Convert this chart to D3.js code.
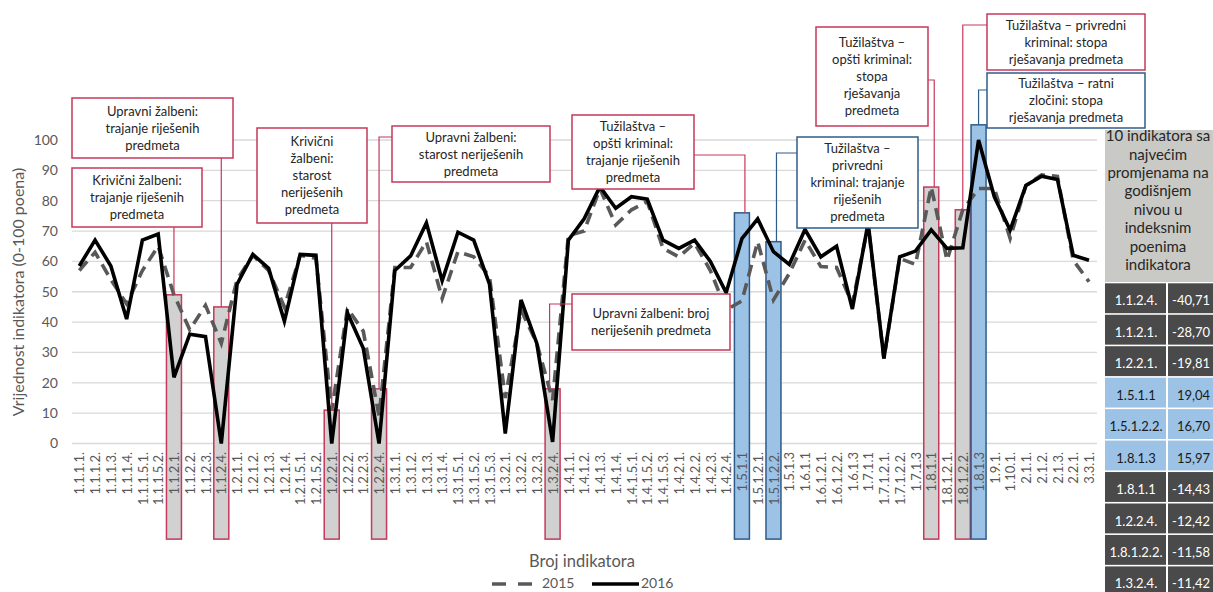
<!DOCTYPE html>
<html>
<head>
<meta charset="utf-8">
<script src="https://cdn.jsdelivr.net/npm/d3@7"></script>
<style>
  body { margin: 0; background: #fff; }
  svg { display: block; font-family: Lato, "Open Sans", sans-serif; }
</style>
</head>
<body>
<svg id="chart"></svg>
<script>
// indicators on the x axis
const indicators = [
  "1.1.1.1.", "1.1.1.2.", "1.1.1.3.", "1.1.1.4.", "1.1.1.5.1.", "1.1.1.5.2.", "1.1.2.1.", "1.1.2.2.", "1.1.2.3.", "1.1.2.4.",
  "1.2.1.1.", "1.2.1.2.", "1.2.1.3.", "1.2.1.4.", "1.2.1.5.1.", "1.2.1.5.2.", "1.2.2.1.", "1.2.2.2.", "1.2.2.3.", "1.2.2.4.",
  "1.3.1.1.", "1.3.1.2.", "1.3.1.3.", "1.3.1.4.", "1.3.1.5.1.", "1.3.1.5.2.", "1.3.1.5.3.", "1.3.2.1.", "1.3.2.2.", "1.3.2.3.", "1.3.2.4.",
  "1.4.1.1.", "1.4.1.2.", "1.4.1.3.", "1.4.1.4.", "1.4.1.5.1.", "1.4.1.5.2.", "1.4.1.5.3.", "1.4.2.1.", "1.4.2.2.", "1.4.2.3.", "1.4.2.4.",
  "1.5.1.1", "1.5.1.2.1.", "1.5.1.2.2.", "1.5.1.3",
  "1.6.1.1", "1.6.1.2.1.", "1.6.1.2.2.", "1.6.1.3",
  "1.7.1.1", "1.7.1.2.1.", "1.7.1.2.2.", "1.7.1.3",
  "1.8.1.1", "1.8.1.2.1.", "1.8.1.2.2.", "1.8.1.3",
  "1.9.1.", "1.10.1.", "2.1.1.", "2.1.2.", "2.1.3.", "2.2.1.", "3.3.1."
];

// indicator values (0-100 points)
const values2015 = [
  57, 63, 54, 46, 57, 65, 49, 37.5, 45.5, 33,
  54, 62, 57, 45, 62, 61, 11, 44.5, 37, 9,
  58, 58, 66.5, 47.8, 63.2, 61.5, 55, 15, 44, 33, 14.3,
  68.5, 70, 84, 72, 77, 79.7, 64.3, 61.5, 66, 57, 44,
  47, 66.5, 47.3, 56,
  67, 58.3, 58, 46,
  72, 28, 61, 59,
  84.5, 60.4, 77, 84,
  84, 67.6, 85, 88.5, 88, 60.4, 53.3
];
const values2016 = [
  58.5, 67, 58.5, 41, 67, 69, 21.8, 36, 35.2, 0,
  52.5, 62.3, 57.7, 40.3, 62.3, 62, 0, 43, 31.4, 0,
  57, 61.8, 72.7, 53.6, 69.6, 67, 52.5, 3.3, 47.3, 33, 0.5,
  67, 74, 84.6, 77.5, 81.3, 80.5, 67, 64.3, 67, 60, 49.7,
  67.5, 74, 63.2, 59,
  70.5, 61.5, 65, 44.3,
  72.7, 28, 61.5, 63.4,
  70.4, 64.3, 64.5, 100,
  81.3, 70.3, 85, 88.1, 87, 62, 60.4
];

// highlighted indicators (drops = gray, rises = blue)
const grayBarIds = ["1.1.2.1.", "1.1.2.4.", "1.2.2.1.", "1.2.2.4.", "1.3.2.4.", "1.8.1.1", "1.8.1.2.2."];
const grayBarValues = [49, 45, 11, 18, 18, 84.5, 77];
const blueBarIds = ["1.5.1.1", "1.5.1.2.2.", "1.8.1.3"];
const blueBarValues = [76, 66.5, 105];
const barBase = -31.5;

const yTicks = [0, 10, 20, 30, 40, 50, 60, 70, 80, 90, 100];

// callout texts and the bar each one points at
const noteTexts = [
  ["Upravni žalbeni:", "trajanje riješenih", "predmeta"],
  ["Krivični žalbeni:", "trajanje riješenih", "predmeta"],
  ["Krivični", "žalbeni:", "starost", "neriješenih", "predmeta"],
  ["Upravni žalbeni:", "starost neriješenih", "predmeta"],
  ["Tužilaštva –", "opšti kriminal:", "trajanje riješenih", "predmeta"],
  ["Upravni žalbeni: broj", "neriješenih predmeta"],
  ["Tužilaštva –", "opšti kriminal:", "stopa", "rješavanja", "predmeta"],
  ["Tužilaštva – privredni", "kriminal: stopa", "rješavanja predmeta"],
  ["Tužilaštva – ratni", "zločini: stopa", "rješavanja predmeta"],
  ["Tužilaštva –", "privredni", "kriminal: trajanje", "riješenih", "predmeta"]
];
const noteTargets = ["1.1.2.4.", "1.1.2.1.", "1.2.2.1.", "1.2.2.4.", "1.5.1.1", "1.3.2.4.", "1.8.1.1", "1.8.1.2.2.", "1.8.1.3", "1.5.1.2.2."];

// side table: 10 indicators with the largest yearly change
const tableHeader = ["10 indikatora sa", "najvećim", "promjenama na", "godišnjem", "nivou u", "indeksnim", "poenima", "indikatora"];
const tableIds = ["1.1.2.4.", "1.1.2.1.", "1.2.2.1.", "1.5.1.1", "1.5.1.2.2.", "1.8.1.3", "1.8.1.1", "1.2.2.4.", "1.8.1.2.2.", "1.3.2.4."];
const tableValues = [-40.71, -28.70, -19.81, 19.04, 16.70, 15.97, -14.43, -12.42, -11.58, -11.42];

// ---- layout ----
var w = 1213;
var h = 592;
var pink = "#c5395b";
var blue = "#2e5c8a";
var textGray = "#595959";

// callout boxes: position, size, color, where the leader leaves the box
var noteLayout = [
  { x: 72, y: 98, w: 161, h: 60, color: pink, side: "bottom" },
  { x: 72, y: 168, w: 130, h: 59, color: pink, side: "bottom" },
  { x: 257, y: 128, w: 110, h: 95, color: pink, side: "bottom" },
  { x: 392, y: 126, w: 158, h: 56, color: pink, side: "left", ly: 137 },
  { x: 572, y: 115, w: 122, h: 74, color: pink, side: "right", ly: 155, dx: 3 },
  { x: 572, y: 294, w: 158, h: 56, color: pink, side: "left", ly: 304, dx: -3 },
  { x: 816, y: 27, w: 112, h: 99, color: pink, side: "right", ly: 80, dx: 3 },
  { x: 987, y: 14, w: 158, h: 56, color: pink, side: "left", ly: 25 },
  { x: 987, y: 73, w: 158, h: 55, color: blue, side: "left", ly: 90 },
  { x: 797, y: 137, w: 121, h: 91, color: blue, side: "left", ly: 153, dx: 3 }
];

var svg = d3.select("#chart")
  .attr("width", w)
  .attr("height", h);

var xScale = d3.scalePoint()
  .domain(indicators)
  .range([79.3, 1089]);

var yScale = d3.scaleLinear()
  .domain([0, 100])
  .range([443.5, 140]);

var barWidth = 15;

// gridlines
svg.append("g")
  .selectAll("line")
  .data(yTicks)
  .join("line")
    .attr("x1", 72)
    .attr("x2", 1097)
    .attr("y1", d => yScale(d))
    .attr("y2", d => yScale(d))
    .attr("stroke", "#d9d9d9")
    .attr("stroke-width", 1.3);

// y axis labels
svg.append("g")
  .attr("transform", "translate(58,0)")
  .call(d3.axisLeft(yScale).tickValues(yTicks).tickSize(0).tickPadding(0))
  .call(g => g.select(".domain").remove())
  .call(g => g.selectAll("text")
    .attr("fill", textGray)
    .style("font-size", "14px")
    .style("font-family", "Lato"));

// highlight bars
var grayBars = grayBarIds.map((id, i) => ({ id: id, value: grayBarValues[i] }));
var blueBars = blueBarIds.map((id, i) => ({ id: id, value: blueBarValues[i] }));
var barValueOf = {};
grayBars.concat(blueBars).forEach(b => { barValueOf[b.id] = b.value; });

function drawBars(data, fill, stroke) {
  svg.append("g")
    .selectAll("rect")
    .data(data)
    .join("rect")
      .attr("x", d => xScale(d.id) - barWidth / 2)
      .attr("y", d => yScale(d.value))
      .attr("width", barWidth)
      .attr("height", d => yScale(barBase) - yScale(d.value))
      .attr("fill", fill)
      .attr("stroke", stroke)
      .attr("stroke-width", 1.5);
}
drawBars(grayBars, "#d0d1d0", pink);
drawBars(blueBars, "#9cc2e6", blue);

// x axis labels, rotated, drawn over the bars
svg.append("g")
  .attr("transform", "translate(0,449)")
  .call(d3.axisBottom(xScale).tickSize(0).tickPadding(0))
  .call(g => g.select(".domain").remove())
  .call(g => g.selectAll("text")
    .attr("transform", "rotate(-90)")
    .attr("x", -3)
    .attr("y", 0)
    .attr("dy", "0.36em")
    .attr("text-anchor", "end")
    .attr("fill", textGray)
    .style("font-size", "13px")
    .style("font-family", "Lato"));

// the two years
var line = d3.line()
  .x((d, i) => xScale(indicators[i]))
  .y(d => yScale(d));

svg.append("path")
  .datum(values2015)
  .attr("d", line)
  .attr("fill", "none")
  .attr("stroke", "#595959")
  .attr("stroke-width", 3.6)
  .attr("stroke-dasharray", "12,7");

svg.append("path")
  .datum(values2016)
  .attr("d", line)
  .attr("fill", "none")
  .attr("stroke", "#000")
  .attr("stroke-width", 3.6);

// callouts: leader line first, then the box on top
var notes = noteTexts.map((lines, i) => Object.assign({ lines: lines, target: noteTargets[i] }, noteLayout[i]));

var noteG = svg.append("g");
notes.forEach(n => {
  var tx = xScale(n.target) + (n.dx || 0);
  var ty = yScale(barValueOf[n.target]);
  var pts;
  if (n.side === "bottom") {
    pts = [[tx, n.y + n.h], [tx, ty]];
  } else if (n.side === "left") {
    pts = [[n.x, n.ly], [tx, n.ly], [tx, ty]];
  } else {
    pts = [[n.x + n.w, n.ly], [tx, n.ly], [tx, ty]];
  }
  noteG.append("path")
    .attr("d", d3.line()(pts))
    .attr("fill", "none")
    .attr("stroke", n.color)
    .attr("stroke-width", 1.2);

  noteG.append("rect")
    .attr("x", n.x)
    .attr("y", n.y)
    .attr("width", n.w)
    .attr("height", n.h)
    .attr("fill", "#fff")
    .attr("stroke", n.color)
    .attr("stroke-width", 1.5);

  var lh = 17;
  var first = n.y + n.h / 2 - (n.lines.length - 1) / 2 * lh;
  noteG.append("text")
    .attr("text-anchor", "middle")
    .attr("fill", "#262626")
    .style("font-size", "13px")
    .selectAll("tspan")
    .data(n.lines)
    .join("tspan")
      .attr("x", n.x + n.w / 2)
      .attr("y", (d, i) => first + i * lh)
      .attr("dy", "0.35em")
      .text(d => d);
});

// axis titles
svg.append("text")
  .attr("transform", "translate(18,292) rotate(-90)")
  .attr("text-anchor", "middle")
  .attr("dy", "0.35em")
  .attr("fill", textGray)
  .style("font-size", "16px")
  .text("Vrijednost indikatora (0-100 poena)");

svg.append("text")
  .attr("x", 582)
  .attr("y", 567)
  .attr("text-anchor", "middle")
  .attr("fill", textGray)
  .style("font-size", "16.5px")
  .text("Broj indikatora");

// legend
var legend = svg.append("g");
legend.append("line")
  .attr("x1", 492).attr("x2", 537)
  .attr("y1", 584).attr("y2", 584)
  .attr("stroke", "#595959")
  .attr("stroke-width", 3.6)
  .attr("stroke-dasharray", "14,12");
legend.append("text")
  .attr("x", 542).attr("y", 588)
  .attr("fill", textGray)
  .style("font-size", "14px")
  .text("2015");
legend.append("line")
  .attr("x1", 592).attr("x2", 639)
  .attr("y1", 584).attr("y2", 584)
  .attr("stroke", "#000")
  .attr("stroke-width", 3.6);
legend.append("text")
  .attr("x", 641).attr("y", 588)
  .attr("fill", textGray)
  .style("font-size", "14px")
  .text("2016");

// side table
var table = svg.append("g");
table.append("rect")
  .attr("x", 1105).attr("y", 130)
  .attr("width", 120).attr("height", 152)
  .attr("fill", "#c9c9c5");
table.append("text")
  .attr("text-anchor", "middle")
  .attr("fill", "#262626")
  .style("font-size", "15px")
  .selectAll("tspan")
  .data(tableHeader)
  .join("tspan")
    .attr("x", 1158)
    .attr("y", (d, i) => 136 + i * 18.4)
    .attr("dy", "0.35em")
    .text(d => d);

var rowY = d3.scaleBand()
  .domain(d3.range(tableIds.length))
  .range([283.3, 283.3 + 31.3 * tableIds.length])
  .paddingInner(0.05);

var fmt = v => d3.format(".2f")(v).replace(".", ",").replace("\u2212", "-");

var rows = table.selectAll("g.row")
  .data(tableIds.map((id, i) => ({ id: id, value: tableValues[i] })))
  .join("g")
    .attr("class", "row")
    .attr("transform", (d, i) => `translate(0,${rowY(i)})`);

rows.append("rect")
  .attr("x", 1105).attr("width", 61)
  .attr("height", rowY.bandwidth())
  .attr("fill", d => d.value > 0 ? "#9cc2e6" : "#4a4a4a");
rows.append("rect")
  .attr("x", 1168).attr("width", 60)
  .attr("height", rowY.bandwidth())
  .attr("fill", d => d.value > 0 ? "#9cc2e6" : "#4a4a4a");
rows.append("text")
  .attr("x", 1136)
  .attr("y", 22)
  .attr("text-anchor", "middle")
  .attr("fill", d => d.value > 0 ? "#1a1a1a" : "#fff")
  .style("font-size", "13px")
  .text(d => d.id);
rows.append("text")
  .attr("x", 1210)
  .attr("y", 22)
  .attr("text-anchor", "end")
  .attr("fill", d => d.value > 0 ? "#1a1a1a" : "#fff")
  .style("font-size", "13px")
  .text(d => fmt(d.value));
</script>
</body>
</html>
